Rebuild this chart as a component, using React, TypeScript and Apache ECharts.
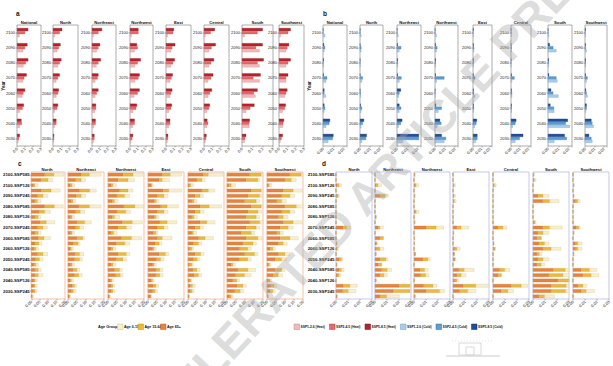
import React, { useEffect, useRef } from 'react';
import * as echarts from 'echarts';

// ---------- categories / tick labels ----------
const years = ['2030', '2040', '2050', '2060', '2070', '2080', '2090', '2100'];
const regionsAB = ['National', 'North', 'Northeast', 'Northwest', 'East', 'Central', 'South', 'Southwest'];
const regionsCD = ['North', 'Northeast', 'Northwest', 'East', 'Central', 'South', 'Southwest'];
const rowLabels = [
  '2100-SSP585', '2100-SSP245', '2100-SSP126',
  '2090-SSP585', '2090-SSP245', '2090-SSP126',
  '2080-SSP585', '2080-SSP245', '2080-SSP126',
  '2070-SSP585', '2070-SSP245', '2070-SSP126',
  '2060-SSP585', '2060-SSP245', '2060-SSP126',
  '2050-SSP585', '2050-SSP245', '2050-SSP126',
  '2040-SSP585', '2040-SSP245', '2040-SSP126',
  '2030-SSP585', '2030-SSP245', '2030-SSP126',
];
const heatNames = ['SSP1-2.6 (Heat)', 'SSP2-4.5 (Heat)', 'SSP5-8.5 (Heat)'];
const coldNames = ['SSP1-2.6 (Cold)', 'SSP2-4.5 (Cold)', 'SSP5-8.5 (Cold)'];
const ageNames = ['Age 0-15', 'Age 15-64', 'Age 65+'];

// ---------- panel a: heat, per region, years 2030..2100 ----------
const heatSSP126 = [
  [0.017, 0.035, 0.035, 0.065, 0.075, 0.08, 0.075, 0.03],
  [0.01, 0.02, 0.02, 0.04, 0.04, 0.06, 0.05, 0.02],
  [0.02, 0.025, 0.035, 0.04, 0.04, 0.055, 0.06, 0.02],
  [0.015, 0.035, 0.04, 0.055, 0.065, 0.065, 0.06, 0.02],
  [0.017, 0.035, 0.035, 0.05, 0.05, 0.06, 0.06, 0.02],
  [0.017, 0.035, 0.035, 0.05, 0.05, 0.06, 0.06, 0.017],
  [0.025, 0.07, 0.04, 0.13, 0.17, 0.17, 0.17, 0.025],
  [0.017, 0.045, 0.045, 0.07, 0.085, 0.085, 0.085, 0.02],
];
const heatSSP245 = [
  [0.025, 0.06, 0.07, 0.08, 0.09, 0.11, 0.1, 0.1],
  [0.013, 0.04, 0.05, 0.06, 0.06, 0.08, 0.07, 0.08],
  [0.03, 0.045, 0.05, 0.06, 0.07, 0.08, 0.08, 0.08],
  [0.03, 0.06, 0.08, 0.1, 0.11, 0.1, 0.1, 0.11],
  [0.025, 0.05, 0.06, 0.06, 0.065, 0.085, 0.075, 0.085],
  [0.025, 0.05, 0.06, 0.07, 0.085, 0.085, 0.09, 0.08],
  [0.03, 0.07, 0.08, 0.115, 0.11, 0.15, 0.135, 0.15],
  [0.03, 0.05, 0.07, 0.085, 0.085, 0.11, 0.1, 0.11],
];
const heatSSP585 = [
  [0.035, 0.055, 0.085, 0.1, 0.12, 0.14, 0.13, 0.14],
  [0.013, 0.04, 0.06, 0.07, 0.08, 0.1, 0.09, 0.11],
  [0.03, 0.045, 0.05, 0.08, 0.08, 0.11, 0.1, 0.125],
  [0.04, 0.06, 0.09, 0.125, 0.125, 0.14, 0.09, 0.11],
  [0.025, 0.05, 0.07, 0.075, 0.08, 0.105, 0.11, 0.095],
  [0.03, 0.04, 0.07, 0.095, 0.11, 0.12, 0.14, 0.13],
  [0.04, 0.075, 0.12, 0.15, 0.18, 0.21, 0.2, 0.2],
  [0.045, 0.06, 0.08, 0.1, 0.11, 0.14, 0.12, 0.14],
];

// ---------- panel b: cold, per region, years 2030..2100 ----------
const coldSSP126 = [
  [0.005, 0.003, 0.0013, 0.0027, 0.003, 0.0007, 0.0013, 0.002],
  [0.002, 0.0013, 0.0013, 0.001, 0.002, 0.0003, 0.0013, 0.0013],
  [0.0057, 0.0017, 0.0023, 0.0017, 0.0023, 0.0007, 0.0023, 0.0013],
  [0.0093, 0.0023, 0.0033, 0.0003, 0.0017, 0.0007, 0.0017, 0.0017],
  [0.0033, 0.0023, 0.0007, 0.0027, 0.0013, 0.0007, 0.0013, 0.0007],
  [0.005, 0.002, 0.0007, 0.0013, 0.0013, 0.0003, 0.0007, 0.001],
  [0.006, 0.021, 0.006, 0.01, 0.009, 0.0007, 0.008, 0.001],
  [0.0077, 0.009, 0.001, 0.0027, 0.0017, 0.0007, 0.0017, 0.0007],
];
const coldSSP245 = [
  [0.0093, 0.006, 0.002, 0.0013, 0.004, 0.0003, 0.002, 0.0003],
  [0.006, 0.0027, 0.002, 0.0007, 0.0027, 0.0003, 0.0013, 0.0003],
  [0.021, 0.0037, 0.004, 0.0023, 0.0043, 0.0007, 0.004, 0.0003],
  [0.011, 0.0063, 0.0067, 0.0003, 0.0093, 0.0007, 0.0023, 0.0003],
  [0.0053, 0.004, 0.0013, 0.0013, 0.0027, 0.0007, 0.0013, 0.0003],
  [0.01, 0.005, 0.0007, 0.0013, 0.004, 0.0003, 0.0007, 0.0003],
  [0.018, 0.017, 0.0057, 0.005, 0.008, 0.0007, 0.005, 0.0003],
  [0.0067, 0.0077, 0.0017, 0.0017, 0.0027, 0.0007, 0.0007, 0.0003],
];
const coldSSP585 = [
  [0.01, 0.0067, 0.0013, 0.0013, 0.0007, 0.0007, 0.001, 0.0003],
  [0.0067, 0.004, 0.0007, 0.0003, 0.0003, 0.0003, 0.0003, 0.0003],
  [0.021, 0.005, 0.0023, 0.0037, 0.0007, 0.0007, 0.0007, 0.0003],
  [0.0067, 0.005, 0.001, 0.0003, 0.0007, 0.0007, 0.0007, 0.0003],
  [0.0053, 0.0047, 0.0007, 0.0007, 0.0007, 0.0007, 0.0007, 0.0007],
  [0.014, 0.006, 0.0007, 0.0007, 0.0007, 0.0003, 0.0003, 0.0003],
  [0.016, 0.019, 0.0023, 0.003, 0.001, 0.0007, 0.0017, 0.0003],
  [0.0043, 0.0067, 0.0017, 0.001, 0.0007, 0.0007, 0.0007, 0.0007],
];

// ---------- panel c: heat by age group, per region (rows as rowLabels) ----------
const heatAge65 = [
  [0.08, 0.058, 0.014, 0.06, 0.038, 0.022, 0.08, 0.046, 0.022, 0.052, 0.038, 0.022, 0.042, 0.022, 0.016, 0.038, 0.026, 0.016, 0.022, 0.022, 0.016, 0.016, 0.014, 0.004],
  [0.074, 0.043, 0.013, 0.065, 0.046, 0.019, 0.061, 0.043, 0.015, 0.05, 0.043, 0.015, 0.05, 0.031, 0.013, 0.039, 0.037, 0.015, 0.028, 0.037, 0.013, 0.024, 0.02, 0.006],
  [0.084, 0.056, 0.019, 0.065, 0.05, 0.024, 0.088, 0.05, 0.024, 0.08, 0.056, 0.019, 0.075, 0.047, 0.019, 0.056, 0.047, 0.019, 0.037, 0.043, 0.015, 0.019, 0.019, 0.006],
  [0.08, 0.062, 0.017, 0.084, 0.053, 0.035, 0.071, 0.053, 0.035, 0.066, 0.053, 0.03, 0.053, 0.041, 0.026, 0.062, 0.048, 0.026, 0.044, 0.044, 0.019, 0.03, 0.026, 0.014],
  [0.086, 0.05, 0.009, 0.077, 0.04, 0.022, 0.068, 0.04, 0.022, 0.068, 0.04, 0.022, 0.059, 0.031, 0.009, 0.04, 0.031, 0.009, 0.028, 0.035, 0.009, 0.013, 0.013, 0.004],
  [0.126, 0.107, 0.011, 0.135, 0.117, 0.098, 0.135, 0.117, 0.107, 0.126, 0.107, 0.08, 0.107, 0.089, 0.07, 0.098, 0.07, 0.024, 0.061, 0.048, 0.033, 0.056, 0.043, 0.015],
  [0.127, 0.1, 0.009, 0.091, 0.082, 0.055, 0.1, 0.082, 0.064, 0.091, 0.073, 0.055, 0.073, 0.064, 0.018, 0.064, 0.046, 0.009, 0.046, 0.036, 0.009, 0.022, 0.018, 0.004],
];
const heatAge1564 = [
  [0.054, 0.042, 0.008, 0.058, 0.032, 0.016, 0.058, 0.034, 0.02, 0.038, 0.032, 0.02, 0.034, 0.024, 0.012, 0.032, 0.024, 0.012, 0.02, 0.02, 0.008, 0.008, 0.01, 0.004],
  [0.046, 0.031, 0.011, 0.056, 0.028, 0.009, 0.059, 0.026, 0.009, 0.043, 0.022, 0.009, 0.033, 0.026, 0.007, 0.026, 0.028, 0.009, 0.022, 0.024, 0.007, 0.013, 0.011, 0.004],
  [0.056, 0.056, 0.009, 0.047, 0.043, 0.013, 0.062, 0.049, 0.013, 0.056, 0.047, 0.013, 0.056, 0.047, 0.009, 0.047, 0.037, 0.009, 0.028, 0.026, 0.007, 0.009, 0.009, 0.004],
  [0.045, 0.018, 0.005, 0.032, 0.036, 0.012, 0.036, 0.036, 0.012, 0.041, 0.036, 0.015, 0.027, 0.022, 0.009, 0.036, 0.023, 0.009, 0.022, 0.022, 0.007, 0.015, 0.015, 0.002],
  [0.028, 0.028, 0.007, 0.037, 0.028, 0.013, 0.051, 0.028, 0.013, 0.037, 0.028, 0.009, 0.037, 0.028, 0.013, 0.031, 0.022, 0.013, 0.022, 0.024, 0.007, 0.013, 0.011, 0.002],
  [0.065, 0.065, 0.013, 0.056, 0.065, 0.065, 0.056, 0.056, 0.056, 0.056, 0.056, 0.056, 0.065, 0.056, 0.046, 0.056, 0.046, 0.009, 0.056, 0.05, 0.022, 0.033, 0.031, 0.009],
  [0.064, 0.036, 0.005, 0.055, 0.046, 0.027, 0.064, 0.046, 0.027, 0.055, 0.046, 0.018, 0.055, 0.027, 0.015, 0.036, 0.036, 0.005, 0.036, 0.027, 0.009, 0.018, 0.015, 0.002],
];
const heatAge015 = [
  [0.06, 0.028, 0.02, 0.054, 0.03, 0.02, 0.052, 0.034, 0.016, 0.05, 0.026, 0.016, 0.038, 0.018, 0.016, 0.028, 0.02, 0.016, 0.018, 0.028, 0.012, 0.012, 0.01, 0.004],
  [0.065, 0.024, 0.013, 0.037, 0.024, 0.015, 0.065, 0.024, 0.013, 0.037, 0.022, 0.013, 0.009, 0.011, 0.011, 0.022, 0.015, 0.013, 0.015, 0.019, 0.011, 0.013, 0.015, 0.004],
  [0.056, 0.037, 0.019, 0.028, 0.028, 0.019, 0.047, 0.026, 0.028, 0.056, 0.028, 0.019, 0.056, 0.028, 0.015, 0.019, 0.019, 0.015, 0.015, 0.015, 0.009, 0.009, 0.011, 0.002],
  [0.063, 0.04, 0.007, 0.072, 0.023, 0.015, 0.063, 0.023, 0.015, 0.054, 0.023, 0.011, 0.054, 0.015, 0.012, 0.018, 0.018, 0.012, 0.018, 0.018, 0.007, 0.015, 0.012, 0.004],
  [0.083, 0.018, 0.015, 0.037, 0.018, 0.015, 0.068, 0.022, 0.018, 0.046, 0.018, 0.018, 0.046, 0.018, 0.009, 0.018, 0.015, 0.009, 0.018, 0.018, 0.007, 0.015, 0.011, 0.002],
  [0.009, 0.009, 0.024, 0.009, 0.015, 0.019, 0.009, 0.019, 0.019, 0.019, 0.019, 0.019, 0.024, 0.019, 0.019, 0.019, 0.019, 0.015, 0.043, 0.037, 0.015, 0.019, 0.019, 0.009],
  [0.009, 0.027, 0.013, 0.051, 0.027, 0.027, 0.036, 0.027, 0.027, 0.051, 0.027, 0.018, 0.046, 0.022, 0.013, 0.027, 0.027, 0.007, 0.018, 0.024, 0.009, 0.015, 0.013, 0.002],
];

// ---------- panel d: cold by age group, per region (rows as rowLabels) ----------
const coldAge65 = [
  [0, 0, 0.0011, 0, 0.0006, 0, 0, 0, 0, 0, 0.0061, 0, 0, 0.0006, 0.0006, 0, 0.0028, 0.0006, 0.0028, 0.0014, 0, 0.0061, 0.0056, 0.0006],
  [0, 0, 0.0008, 0, 0.0042, 0, 0, 0, 0.0008, 0, 0.0028, 0, 0.0042, 0.0014, 0.0014, 0.0008, 0.0042, 0.0028, 0.0056, 0.0042, 0.0008, 0.0203, 0.0153, 0.0042],
  [0.0006, 0, 0.0011, 0, 0.0006, 0, 0, 0.0006, 0, 0.0006, 0.0103, 0, 0.0004, 0.0004, 0, 0.0011, 0.0075, 0, 0.0053, 0.0056, 0, 0.0081, 0.0103, 0.0008],
  [0, 0, 0.0005, 0, 0.0005, 0.0005, 0, 0, 0, 0, 0.0033, 0.0005, 0, 0, 0.0014, 0.0011, 0.0016, 0, 0.0049, 0.0033, 0.0014, 0.0087, 0.0055, 0],
  [0, 0, 0.0006, 0, 0, 0, 0, 0, 0, 0, 0.0042, 0, 0, 0.0006, 0.0006, 0, 0, 0, 0.0056, 0.0042, 0, 0.0153, 0.0069, 0],
  [0.0006, 0.0006, 0, 0, 0.0042, 0.0083, 0, 0, 0, 0.0006, 0.0083, 0.0042, 0.0033, 0.005, 0.0083, 0.0033, 0.0042, 0.0033, 0.017, 0.0133, 0.0208, 0.0153, 0.0153, 0.005],
  [0, 0, 0.0006, 0, 0.0006, 0.0022, 0, 0, 0, 0, 0.0028, 0.0006, 0, 0.0022, 0.0022, 0.0006, 0, 0, 0.0069, 0.0083, 0, 0.0042, 0.0069, 0],
];
const coldAge1564 = [
  [0, 0, 0.0017, 0, 0.0014, 0, 0, 0, 0, 0, 0.0028, 0, 0, 0, 0.0006, 0, 0.0019, 0, 0.0019, 0.0014, 0, 0.0056, 0.0047, 0.0003],
  [0, 0, 0.0019, 0, 0.0042, 0, 0, 0, 0, 0, 0.0014, 0, 0.0028, 0, 0.0028, 0, 0.005, 0.0028, 0.0047, 0.0033, 0, 0.0089, 0.0139, 0.0056],
  [0, 0, 0.0008, 0, 0, 0, 0, 0.0014, 0, 0, 0.0083, 0, 0, 0, 0, 0, 0.0042, 0, 0.0036, 0.0042, 0, 0.0078, 0.0111, 0],
  [0, 0, 0.0005, 0, 0.0005, 0.0008, 0, 0, 0, 0, 0.0036, 0, 0, 0, 0.0019, 0, 0, 0, 0.0046, 0.0036, 0.0019, 0.0104, 0.0068, 0],
  [0, 0, 0.0008, 0, 0, 0, 0, 0, 0, 0, 0.0042, 0, 0, 0, 0.0011, 0, 0, 0, 0.0042, 0.0028, 0, 0.0083, 0.0056, 0],
  [0, 0.0006, 0, 0, 0.0042, 0.0056, 0, 0, 0, 0.0011, 0.0056, 0.0042, 0.0036, 0.0047, 0.0069, 0.0022, 0.0042, 0.0036, 0.01, 0.0117, 0.009, 0.0125, 0.012, 0.0047],
  [0, 0, 0, 0, 0, 0.0019, 0, 0, 0, 0, 0.0022, 0, 0, 0.0019, 0.0019, 0, 0, 0, 0.0069, 0.0069, 0, 0.0042, 0.0042, 0],
];
const coldAge015 = [
  [0, 0, 0.0019, 0, 0.0008, 0, 0, 0, 0, 0, 0.0033, 0, 0, 0, 0.0008, 0, 0.0008, 0, 0.0022, 0.0014, 0, 0.0061, 0.0064, 0.0003],
  [0, 0, 0.0028, 0, 0.0028, 0, 0, 0, 0, 0, 0.0028, 0, 0, 0, 0.0033, 0, 0.0019, 0, 0.0036, 0.0028, 0, 0.0008, 0.0008, 0.0106],
  [0, 0, 0.0022, 0, 0, 0, 0, 0.0022, 0, 0, 0.0061, 0, 0, 0, 0, 0, 0.0019, 0, 0.0028, 0.0028, 0, 0.0033, 0.0042, 0],
  [0, 0, 0.0011, 0, 0.0011, 0.0014, 0, 0, 0, 0, 0.0063, 0, 0, 0, 0.0027, 0, 0, 0, 0.0082, 0.0041, 0.0016, 0.0104, 0.0068, 0],
  [0, 0, 0.0014, 0, 0, 0, 0, 0, 0, 0, 0.0033, 0, 0, 0, 0.0006, 0, 0, 0, 0.0042, 0.0006, 0, 0.0056, 0.0047, 0],
  [0, 0.0014, 0, 0, 0.005, 0.0078, 0, 0, 0, 0.0008, 0.0106, 0.005, 0, 0.0036, 0.0083, 0.0022, 0.005, 0.0028, 0.003, 0.005, 0, 0.002, 0.0028, 0.0083],
  [0, 0, 0, 0, 0, 0.0019, 0, 0, 0, 0, 0.0011, 0, 0, 0.0036, 0.0036, 0, 0, 0, 0.0061, 0.0064, 0, 0.0033, 0.0069, 0],
];

// ---------- layout & style ----------
const FONT = 'Liberation Sans';
const AB_TOP = 25, AB_H = 121;
const aBoxes = [[17, 24], [53, 25], [92, 24], [130, 23], [166, 25], [204, 25], [242, 31], [279, 25]];
const bBoxes = [[323, 24], [360, 23], [397, 24], [435, 23], [473, 19], [511, 20], [548, 24], [585, 22]];
const CD_TOP = 172, CD_H = 127, CD_W = 36;
const cLefts = [29, 68, 108, 148, 188, 227, 267];
const dLefts = [336, 375, 414, 453, 493, 533, 573];
const heatColors = ['#F3B9B9', '#E5686B', '#B8232B'];
const heatBorders = ['#C98585', '#B44548', '#7E1217'];
const coldColors = ['#A8CDEA', '#5C9DD2', '#1F4F9C'];
const coldBorders = ['#6E9CC4', '#33709F', '#10306A'];
const ageColors = ['#F8EFCB', '#EBB93E', '#E8843A'];
const ageBorders = ['#D5BE82', '#C2932A', '#C0652A'];

function buildOption() {
  const grid: any[] = [];
  const xAxis: any[] = [];
  const yAxis: any[] = [];
  const series: any[] = [];
  const graphic: any[] = [];

  const lbl = { fontFamily: FONT, color: '#222', fontSize: 4 };

  const title = (text: string, cx: number, y: number) =>
    graphic.push({
      type: 'text', x: cx, y, z: 10,
      style: { text, fill: '#111', fontFamily: FONT, fontSize: 4.2, fontWeight: 'bold', textAlign: 'center', textVerticalAlign: 'bottom' },
    });

  // panels a & b
  const addAB = (boxes: number[][], sets: number[][][], names: string[], colors: string[], borders: string[], max: number, step: number, digits: number) => {
    boxes.forEach(([left, width], r) => {
      const gi = grid.length;
      grid.push({ left, top: AB_TOP, width, height: AB_H, show: true, borderColor: '#777', borderWidth: 0.6, backgroundColor: '#fff' });
      xAxis.push({
        type: 'value', gridIndex: gi, min: 0, max, interval: step,
        splitLine: { show: false }, axisLine: { show: false },
        axisTick: { show: true, length: 1.5, lineStyle: { color: '#444', width: 0.4 } },
        axisLabel: {
          ...lbl, rotate: 45, margin: 2, showMaxLabel: true,
          formatter: (v: number) => (Math.abs(v / step - Math.round(v / step)) < 1e-6 ? v.toFixed(digits) : ''),
        },
      });
      yAxis.push({
        type: 'category', gridIndex: gi, data: years,
        axisLine: { show: false },
        axisTick: { show: true, length: 1.5, alignWithLabel: true, lineStyle: { color: '#444', width: 0.4 } },
        axisLabel: { ...lbl, margin: 2 },
      });
      [2, 1, 0].forEach((k) => {
        series.push({
          type: 'bar', name: names[k], xAxisIndex: gi, yAxisIndex: gi,
          data: sets[k][r], barWidth: 3, barGap: '0%',
          itemStyle: { color: colors[k], borderColor: borders[k], borderWidth: 0.3 },
        });
      });
      title(regionsAB[r], left + width / 2, AB_TOP - 1);
    });
  };
  addAB(aBoxes, [heatSSP126, heatSSP245, heatSSP585], heatNames, heatColors, heatBorders, 0.3, 0.1, 1);
  addAB(bBoxes, [coldSSP126, coldSSP245, coldSSP585], coldNames, coldColors, coldBorders, 0.023, 0.01, 2);

  // panels c & d
  const addCD = (lefts: number[], sets: number[][][], border: string, max: number, step: number, tag: string) => {
    lefts.forEach((left, r) => {
      const gi = grid.length;
      grid.push({ left, top: CD_TOP, width: CD_W, height: CD_H, show: true, borderColor: border, borderWidth: 0.7, backgroundColor: '#fff' });
      xAxis.push({
        type: 'value', gridIndex: gi, min: 0, max, interval: step,
        splitLine: { show: false }, axisLine: { show: false },
        axisTick: { show: true, length: 1.5, lineStyle: { color: '#444', width: 0.4 } },
        axisLabel: { ...lbl, rotate: 45, margin: 2, formatter: (v: number) => v.toFixed(2) },
      });
      yAxis.push({
        type: 'category', gridIndex: gi, data: rowLabels, inverse: true,
        axisLine: { show: false },
        axisTick: { show: r === 0, length: 1.2, alignWithLabel: true, lineStyle: { color: '#444', width: 0.4 } },
        axisLabel: { show: r === 0, ...lbl, color: '#111', fontWeight: 'bold', fontSize: 4.3, margin: 1.5 },
      });
      [2, 1, 0].forEach((k) => {
        series.push({
          type: 'bar', name: ageNames[k], xAxisIndex: gi, yAxisIndex: gi,
          stack: tag + r, data: sets[k][r], barWidth: 3.4,
          itemStyle: { color: ageColors[k], borderColor: ageBorders[k], borderWidth: 0.3 },
        });
      });
      title(regionsCD[r], left + CD_W / 2, CD_TOP - 1);
    });
  };
  addCD(cLefts, [heatAge015, heatAge1564, heatAge65], '#F2A783', 0.2, 0.05, 'c');
  addCD(dLefts, [coldAge015, coldAge1564, coldAge65], '#AEB2E6', 0.03, 0.01, 'd');

  // panel letters and "Year" titles
  const letter = (t: string, x: number, y: number) =>
    graphic.push({ type: 'text', x, y, style: { text: t, fill: '#111', fontFamily: FONT, fontSize: 6.5, fontWeight: 'bold', textVerticalAlign: 'top' } });
  letter('a', 16, 10);
  letter('b', 323, 10);
  letter('c', 18, 160);
  letter('d', 322, 160);
  [3.5, 309].forEach((x) =>
    graphic.push({
      type: 'text', x, y: 86, rotation: Math.PI / 2,
      style: { text: 'Year', fill: '#111', fontFamily: FONT, fontSize: 4.5, fontWeight: 'bold', textAlign: 'center', textVerticalAlign: 'middle' },
    })
  );

  // legends (drawn)
  const legendItem = (x: number, y: number, fill: string, stroke: string, text: string, fs: number) => {
    graphic.push({ type: 'rect', shape: { x, y: y - 3, width: 5.5, height: 5.5 }, style: { fill, stroke, lineWidth: 0.5 } });
    graphic.push({ type: 'text', x: x + 6.5, y: y, style: { text, fill: '#111', fontFamily: FONT, fontSize: fs, fontWeight: 'bold', textVerticalAlign: 'middle' } });
  };
  graphic.push({ type: 'text', x: 98, y: 327, style: { text: 'Age Group', fill: '#111', fontFamily: FONT, fontSize: 3.8, fontWeight: 'bold', textVerticalAlign: 'middle' } });
  const agePos = [117.5, 138, 160.5];
  ageNames.forEach((n, k) => legendItem(agePos[k], 327, ageColors[k], ageBorders[k], n, 3.6));
  const rightPos = [294, 329.5, 365, 400.5, 436, 471.5];
  heatNames.forEach((n, k) => legendItem(rightPos[k], 327, heatColors[k], heatBorders[k], n, 3.3));
  coldNames.forEach((n, k) => legendItem(rightPos[k + 3], 327, coldColors[k], coldBorders[k], n, 3.3));

  // small grey emblem bottom right
  graphic.push({ type: 'line', shape: { x1: 446, y1: 356, x2: 500, y2: 356 }, style: { stroke: '#ccc', lineWidth: 1 } });
  graphic.push({ type: 'rect', shape: { x: 459, y: 343, width: 22, height: 12 }, style: { fill: 'none', stroke: '#d0d0d0', lineWidth: 0.8 } });
  graphic.push({ type: 'rect', shape: { x: 466, y: 347, width: 8, height: 8 }, style: { fill: 'none', stroke: '#d0d0d0', lineWidth: 0.8 } });
  graphic.push({ type: 'line', shape: { x1: 452, y1: 341, x2: 494, y2: 341 }, style: { stroke: '#ddd', lineWidth: 0.8, lineDash: [1, 2] } });

  // watermark
  graphic.push({
    type: 'text', x: 378, y: 182, rotation: 0.82, z: 100, silent: true,
    style: {
      text: 'ACCELERATED ARTICLE PREVIEW', fill: 'rgba(165,165,165,0.4)', fontFamily: FONT,
      fontSize: 46, fontWeight: 'bold', textAlign: 'center', textVerticalAlign: 'middle',
    },
  });

  return {
    animation: false,
    backgroundColor: '#fff',
    textStyle: { fontFamily: FONT },
    grid, xAxis, yAxis, series, graphic,
  };
}

export default function App() {
  const ref = useRef<HTMLDivElement>(null);
  useEffect(() => {
    if (!ref.current) return;
    const chart = echarts.init(ref.current, undefined, { renderer: 'svg' });
    chart.setOption(buildOption() as any);
    return () => chart.dispose();
  }, []);
  return <div ref={ref} style={{ width: 613, height: 366, position: 'absolute', left: 0, top: 0 }} />;
}
